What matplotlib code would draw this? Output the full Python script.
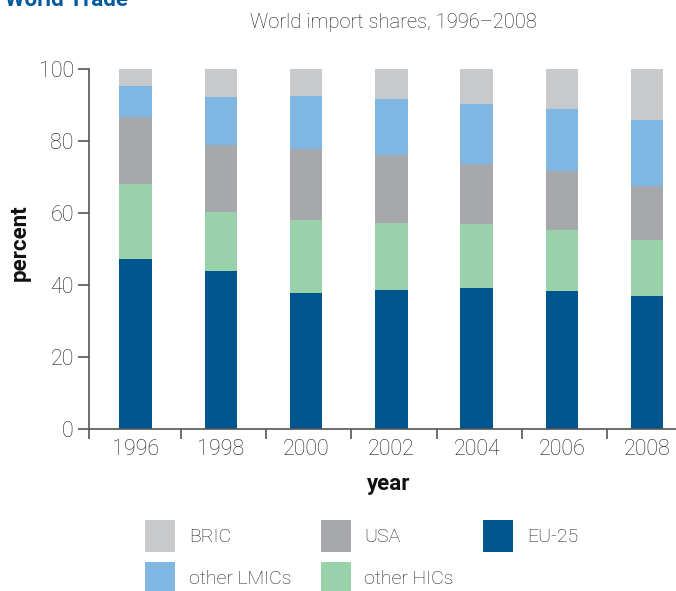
import matplotlib
matplotlib.use("Agg")
import matplotlib.pyplot as plt
import numpy as np
from matplotlib.patches import Patch

years = ["1996", "1998", "2000", "2002", "2004", "2006", "2008"]
eu25 = [47.2, 43.8, 37.7, 38.7, 39.3, 38.2, 36.9]
other_hics = [20.9, 16.5, 20.3, 18.5, 17.6, 17.2, 15.5]
usa = [18.6, 18.6, 19.8, 18.9, 16.8, 16.3, 15.2]
other_lmics = [8.6, 13.2, 14.8, 15.6, 16.6, 17.2, 18.3]
bric = [4.7, 7.9, 7.4, 8.3, 9.7, 11.1, 14.1]

series = [
    ("EU-25", eu25, "#00558F"),
    ("other HICs", other_hics, "#98D1AA"),
    ("USA", usa, "#A7A8AB"),
    ("other LMICs", other_lmics, "#80B6E2"),
    ("BRIC", bric, "#C8C9CB"),
]

plt.rcParams['font.family'] = ['Roboto', 'DejaVu Sans']
plt.rcParams['font.weight'] = 'light'
TXT = '#1e1e1e'

fig = plt.figure(figsize=(6.76, 5.91), dpi=100)
ax = fig.add_axes([89/676, 1-429/591, 1-89/676, (429-69)/591])

x = np.arange(len(years))
bottom = np.zeros(len(years))
handles = {}
for name, vals, col in series:
    ax.bar(x, vals, width=0.38, bottom=bottom, color=col, edgecolor='none', zorder=2)
    bottom += np.array(vals)
    handles[name] = Patch(facecolor=col, edgecolor='none')

ax.set_xlim(-0.545, 6.337)
ax.set_ylim(0, 100)
for s in ['top', 'right']:
    ax.spines[s].set_visible(False)
for s in ['left', 'bottom']:
    ax.spines[s].set_color('#555555')
    ax.spines[s].set_linewidth(1.2)

ax.set_xticks(x)
ax.set_xticklabels(years, fontsize=15.5, color=TXT)
ax.tick_params(axis='x', which='major', length=0, pad=7)
ax.set_xticks([-0.545] + [i + 0.53 for i in range(6)], minor=True)
ax.tick_params(axis='x', which='minor', length=7, width=1.2, color='#555555', direction='out')

ax.set_yticks([0, 20, 40, 60, 80, 100])
ax.tick_params(axis='y', length=8, width=1.2, color='#555555', labelsize=15.5, labelcolor=TXT, pad=3)

fig.text(20/676, 1-243/591, "percent", rotation=90, ha='center', va='center',
         fontsize=16, fontweight='bold', color='#111111')
fig.text(389/676, 1-484/591, "year", ha='center', va='center',
         fontsize=16, fontweight='bold', color='#111111')

fig.text(393/676, 1-22/591, "World import shares, 1996\u20132008", ha='center', va='center',
         fontsize=14.5, color=TXT)
fig.text(5/676, 1-6/591, "World Trade", ha='left', va='baseline',
         fontsize=16, fontweight='bold', color='#005A9C')

order = ["BRIC", "other LMICs", "USA", "other HICs", "EU-25"]
fs = 14
px = fs * 100 / 72
hh = (32 / px - 0.245) / 0.65
leg = fig.legend([handles[n] for n in order], order, ncol=3,
                 loc='upper left', bbox_to_anchor=(145/676, 1-520/591),
                 frameon=False, prop={'size': fs, 'weight': 'light'},
                 handlelength=30/px, handleheight=hh,
                 handletextpad=14/px, columnspacing=29/px, labelspacing=10/px,
                 borderpad=0, borderaxespad=0)
for t in leg.get_texts():
    t.set_color(TXT)

fig.savefig("out.png", dpi=100)
